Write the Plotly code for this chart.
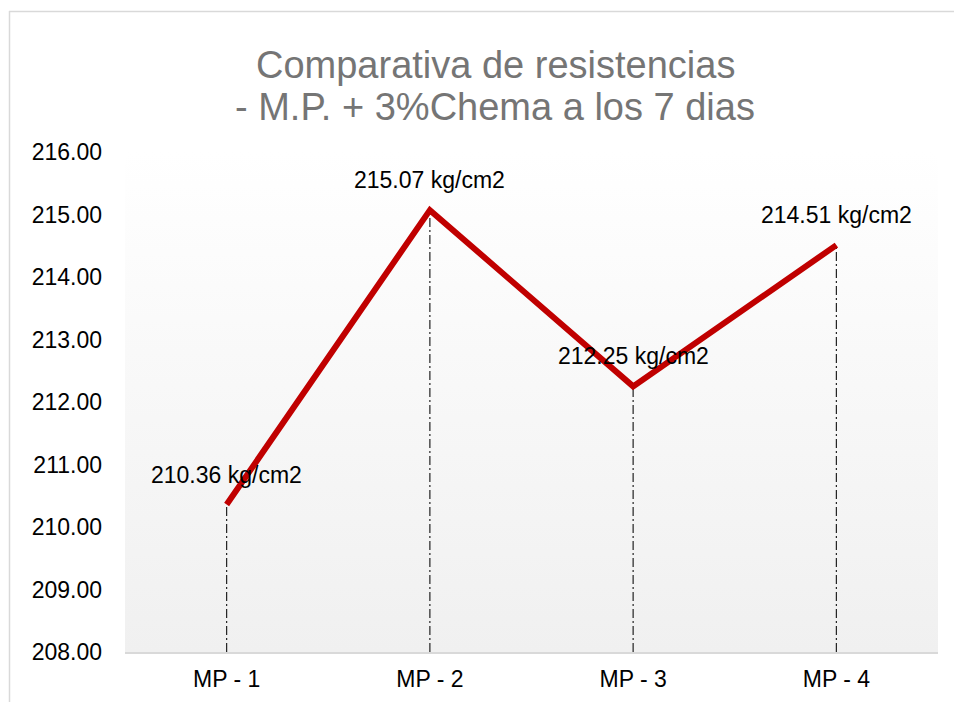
import plotly.graph_objects as go

# Compressive strength results at 7 days
categories = ["MP - 1", "MP - 2", "MP - 3", "MP - 4"]
strength = [210.36, 215.07, 212.25, 214.51]
y_ticks = [208, 209, 210, 211, 212, 213, 214, 215, 216]
y_min, y_max = 208, 216
title_lines = ["Comparativa de resistencias", "- M.P. + 3%Chema a los 7 dias"]

W, H = 954, 702
M_L, M_R, M_T, M_B = 125, 16, 152, 50

pos = list(range(len(categories)))

fig = go.Figure()

# Plot-area background: vertical gradient white -> light grey
fig.add_trace(go.Scatter(
    x=[-0.5, 3.5, 3.5, -0.5, -0.5],
    y=[y_min, y_min, y_max, y_max, y_min],
    mode="lines", line=dict(width=0),
    fill="toself",
    fillgradient=dict(type="vertical",
                      colorscale=[[0, "#f0f0f0"], [1, "#ffffff"]]),
    hoverinfo="skip", showlegend=False,
))

# Drop lines from each point down to the axis
xs, ys = [], []
for p, v in zip(pos, strength):
    xs += [p, p, None]
    ys += [y_min, v, None]
fig.add_trace(go.Scatter(
    x=xs, y=ys, mode="lines",
    line=dict(color="#222222", width=1.2, dash="9px,3px,2px,3px"),
    hoverinfo="skip", showlegend=False,
))

# Main series
fig.add_trace(go.Scatter(
    x=pos, y=strength, mode="lines",
    line=dict(color="#c00000", width=6),
    customdata=categories,
    hovertemplate="%{customdata}: %{y:.2f} kg/cm2<extra></extra>",
    showlegend=False,
))

# Value labels above each point
for p, v in zip(pos, strength):
    fig.add_annotation(
        x=p, y=v, text=f"{v:.2f} kg/cm2", showarrow=False,
        yshift=30, font=dict(size=23, color="#000000"),
    )


def px_x(px):
    return (px - M_L) / (W - M_L - M_R)


def px_y(px):
    return (H - M_B - px) / (H - M_T - M_B)


# Two-line chart title
for line, y_px in zip(title_lines, [65, 107]):
    fig.add_annotation(
        xref="paper", yref="paper", x=px_x(495), y=px_y(y_px),
        xanchor="center", yanchor="middle", showarrow=False,
        text=line, font=dict(size=38, color="#757575"),
    )

# Outer chart frame (top and left edges)
fig.add_shape(type="line", xref="paper", yref="paper",
              x0=px_x(9), x1=px_x(960), y0=px_y(11.5), y1=px_y(11.5),
              line=dict(color="#d9d9d9", width=1.5))
fig.add_shape(type="line", xref="paper", yref="paper",
              x0=px_x(9.5), x1=px_x(9.5), y0=px_y(11), y1=px_y(710),
              line=dict(color="#d9d9d9", width=1.5))

fig.update_layout(
    width=W, height=H,
    margin=dict(l=M_L, r=M_R, t=M_T, b=M_B, autoexpand=False),
    paper_bgcolor="#ffffff",
    plot_bgcolor="#ffffff",
    font=dict(family="Liberation Sans, Arial, sans-serif", color="#000000"),
    xaxis=dict(
        range=[-0.5, 3.5], tickvals=pos, ticktext=categories,
        showgrid=False, zeroline=False, automargin=False,
        showline=True, linecolor="#d9d9d9", linewidth=2,
        ticks="", tickfont=dict(size=23), ticklabelstandoff=5,
    ),
    yaxis=dict(
        range=[y_min, y_max], tickvals=y_ticks, tickformat=".2f",
        showgrid=False, zeroline=False, showline=False, automargin=False,
        ticks="", tickfont=dict(size=23), ticklabelstandoff=22,
    ),
)

fig.write_html("out.html")
